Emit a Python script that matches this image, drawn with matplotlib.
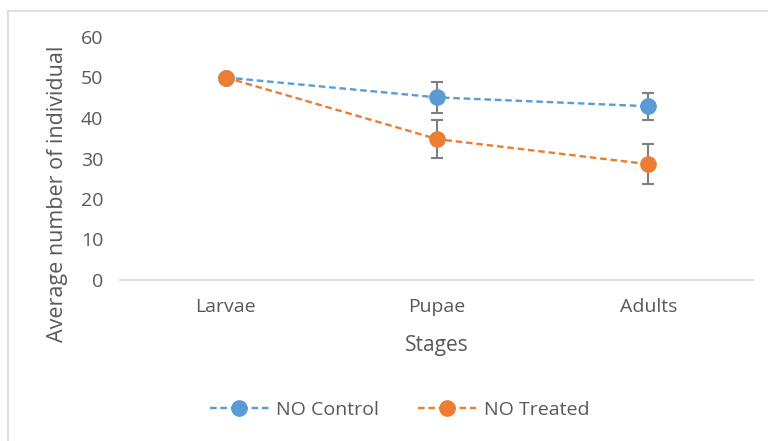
import matplotlib.pyplot as plt
from matplotlib.lines import Line2D

plt.rcParams['font.family'] = ['Open Sans', 'DejaVu Sans']

stages = ["Larvae", "Pupae", "Adults"]
control = [50.0, 45.1, 42.9]
control_err = [0.0, 3.8, 3.3]
treated = [50.0, 34.8, 28.6]
treated_err = [0.0, 4.7, 5.0]

blue = "#5B9BD5"
orange = "#ED7D31"
text_col = "#595959"

fig = plt.figure(figsize=(7.68, 4.41), dpi=100)
ax = fig.add_axes([120 / 768, 1 - 280 / 441, 634 / 768, 243 / 441])

x = list(range(len(stages)))
for vals, errs, col, lab in [(control, control_err, blue, "NO Control"),
                             (treated, treated_err, orange, "NO Treated")]:
    ax.errorbar(x, vals, yerr=errs, fmt="none", ecolor="#7F7F7F",
                elinewidth=1.5, capsize=4.5, capthick=1.5, zorder=2)
    ax.plot(x, vals, color=col, lw=1.7, ls=(0, (2.8, 1.6)), marker="o",
            markersize=11, markeredgecolor=col, label=lab, zorder=3)

ax.set_xlim(-0.5, 2.5)
ax.set_ylim(0, 60)
ax.set_yticks(range(0, 61, 10))
ax.set_xticks(x)
ax.set_xticklabels(stages)
ax.tick_params(length=0, labelsize=14, colors=text_col)
ax.tick_params(axis="y", pad=12)
ax.tick_params(axis="x", pad=13)

for s in ["top", "right", "left"]:
    ax.spines[s].set_visible(False)
ax.spines["bottom"].set_color("#D9D9D9")
ax.spines["bottom"].set_linewidth(1.2)

ax.set_xlabel("Stages", fontsize=15, color=text_col, labelpad=14)
ax.set_ylabel("Average number of individual", fontsize=15.5, color=text_col)
# Excel centres the title lower than the plot area
ax.yaxis.set_label_coords(-0.082, 0.354)

handles = [Line2D([], [], color=c, lw=1.7, ls=(0, (2.8, 1.6)), marker="o",
                  markersize=11) for c in (blue, orange)]
fig.legend(handles, ["NO Control", "NO Treated"], loc="center",
           bbox_to_anchor=(400 / 768, 1 - 410 / 441), ncol=2, frameon=False,
           fontsize=14, labelcolor=text_col, handlelength=3.0,
           handletextpad=0.4, columnspacing=2.0)

# light chart border (left and top visible)
fig.add_artist(Line2D([8 / 768, 8 / 768], [0, 1 - 11 / 441], transform=fig.transFigure,
                      color="#D9D9D9", lw=1.2))
fig.add_artist(Line2D([8 / 768, 1], [1 - 11 / 441, 1 - 11 / 441], transform=fig.transFigure,
                      color="#D9D9D9", lw=1.2))

fig.savefig("out.png", dpi=100)
